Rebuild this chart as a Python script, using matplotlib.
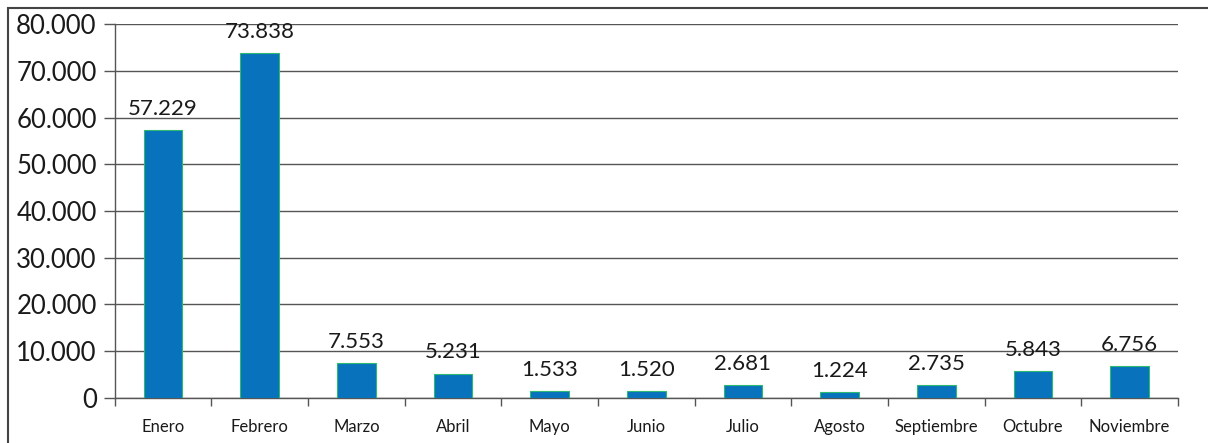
import matplotlib.pyplot as plt
from matplotlib.patches import Rectangle
from matplotlib.ticker import FuncFormatter
import numpy as np

# Data
meses = ['Enero', 'Febrero', 'Marzo', 'Abril', 'Mayo', 'Junio', 'Julio',
         'Agosto', 'Septiembre', 'Octubre', 'Noviembre']
valores = [57229, 73838, 7553, 5231, 1533, 1520, 2681, 1224, 2735, 5843, 6756]
y_ticks = [0, 10000, 20000, 30000, 40000, 50000, 60000, 70000, 80000]


def miles(v):
    return f'{int(v):,}'.replace(',', '.')


plt.rcParams['font.family'] = ['Lato', 'DejaVu Sans']

fig = plt.figure(figsize=(12.08, 4.43), dpi=100)
ax = fig.add_axes([0.095, 0.1016, 0.88, 0.8442])

x = np.arange(len(meses))
ax.bar(x, valores, width=0.4, color='#0872BC', edgecolor='#2EB872',
       linewidth=0.8, zorder=3)

for xi, v in zip(x, valores):
    ax.annotate(miles(v), (xi, v), xytext=(0, 8), textcoords='offset points',
                ha='center', va='bottom', fontsize=16, color='#1a1a1a', zorder=4)

ax.set_xlim(-0.5, len(meses) - 0.5)
ax.set_ylim(0, 80000)
ax.set_yticks(y_ticks)
ax.yaxis.set_major_formatter(FuncFormatter(lambda v, p: miles(v)))
ax.tick_params(axis='y', labelsize=18.5, length=8, width=1, color='#555555',
               labelcolor='#1a1a1a', pad=5)
ax.grid(axis='y', color='#555555', linewidth=1, zorder=0)

ax.set_xticks(x)
ax.set_xticklabels(meses)
ax.set_xticks(np.arange(-0.5, len(meses)), minor=True)
ax.tick_params(axis='x', which='major', length=0, labelsize=12, pad=15,
               labelcolor='#1a1a1a')
ax.tick_params(axis='x', which='minor', length=6, width=1, color='#555555',
               direction='out')

for s in ['top', 'right']:
    ax.spines[s].set_visible(False)
for s in ['left', 'bottom']:
    ax.spines[s].set_color('#555555')
    ax.spines[s].set_linewidth(1)

# outer frame
fig.patches.append(Rectangle((0.007, -0.05), 1.05, 1.033, transform=fig.transFigure,
                             fill=False, edgecolor='#444444', linewidth=1.5))

fig.savefig('out.png', dpi=100)
